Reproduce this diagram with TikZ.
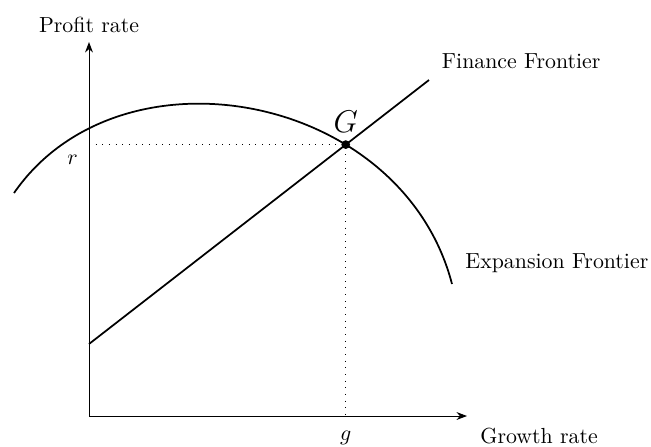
\documentclass[tikz,border=0pt]{standalone}
\usetikzlibrary{intersections,arrows.meta}
\begin{document}
\begin{tikzpicture}[x=0.0161cm,y=-0.0161cm,
  axis/.style={-{Stealth}, line width=0.4pt},
  frontier/.style={line width=0.8pt},
  guide/.style={line width=0.45pt, dash pattern=on 0.45pt off 2.6pt},
  lbl/.style={inner sep=0pt, anchor=base}]
\useasboundingbox (0,0) rectangle (651,446);
% axes
\coordinate (O) at (89,416);
\coordinate (Ytip) at (89,42);
\coordinate (Xtip) at (467,416);
\draw[axis] (O) -- (Ytip);
\draw[axis] (O) -- (Xtip);
% finance frontier
\coordinate (F0) at (89,344);
\coordinate (F1) at (429,80);
\draw[frontier, name path=fin] (F0) -- (F1);
% expansion frontier
\coordinate (E0) at (14,193);
\coordinate (E1) at (452,284);
\draw[frontier, name path=expf] (E0) .. controls (120,40) and (402,92) .. (E1);
% equilibrium
\path[name intersections={of=fin and expf, by=G}];
\coordinate (Gx) at (G |- O);
\coordinate (Gy) at (G -| O);
\draw[guide] (Gy) -- (G) -- (Gx);
\fill (G) circle (2pt);
% labels
\node[lbl] (ylab) at (89,32.5) {Profit rate};
\node[lbl, anchor=base west] (xlab) at (480,443) {Growth rate};
\node[lbl] (glab) at ([yshift=-11pt]Gx) {$g$};
\node[lbl] (rlab) at ([xshift=-7.5pt,yshift=-9pt]Gy) {$r$};
\node[lbl] (Glab) at ([yshift=5.5pt]G) {\Large $G$};
\node[lbl, anchor=base west] (flab) at (441.5,68.3) {Finance Frontier};
\node[lbl, anchor=base west] (elab) at (465,268) {Expansion Frontier};
\end{tikzpicture}
\end{document}
